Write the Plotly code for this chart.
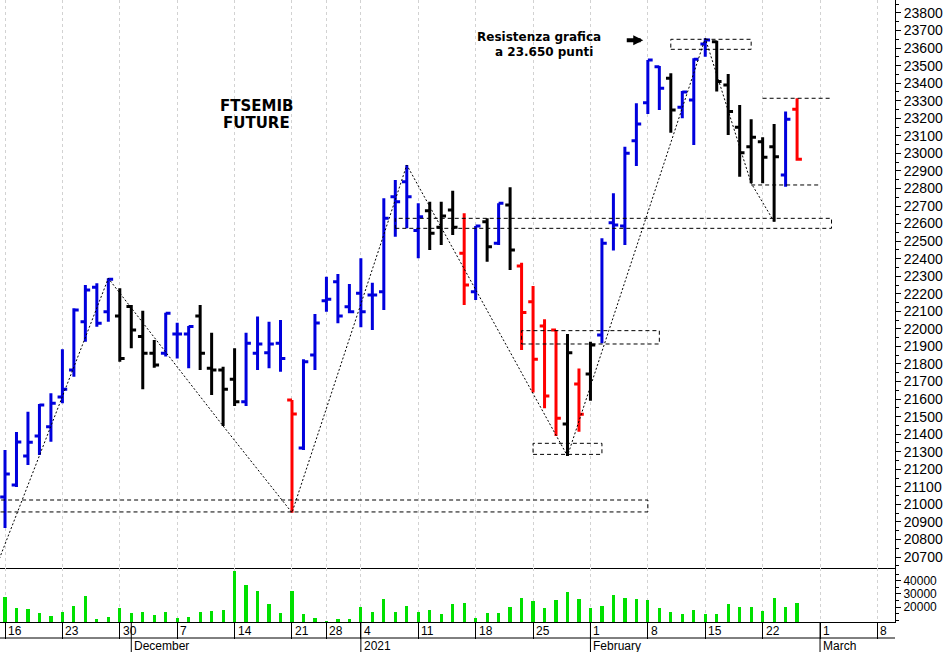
import pandas as pd
import plotly.graph_objects as go

# ---------------- data ----------------
holidays = ["2020-12-24", "2020-12-25", "2020-12-31", "2021-01-01"]
calendar = [d for d in pd.bdate_range("2020-11-16", "2021-03-08")
            if d.strftime("%Y-%m-%d") not in holidays]

opens = [21042, 21110, 21276, 21390, 21443, 21612, 21766, 22041, 22237, 22098,
         22074, 22127, 21956, 21861, 21861, 21971, 21971, 22074, 21776, 21766,
         21713, 21585, 21861, 21864, 21918, 21595, 21321, 21851, 22161, 22269,
         22126, 22203, 22193, 22212, 22753, 22839, 22560, 22673, 22579, 22677,
         22431, 22212, 22611, 22488, 22706, 22358, 22155, 22017, 21994, 21458,
         21686, 21743, 21965, 22605, 22586, 23072, 23289, 23494, 23428, 23263,
         23304, 23623, 23636, 23390, 23149, 23038, 23067, 23038, 22877, 23251]
highs = [21310, 21413, 21528, 21572, 21633, 21884, 22117, 22250, 22260, 22288,
         22231, 22136, 22104, 21937, 22092, 22035, 22017, 22136, 21978, 21785,
         21889, 21978, 22070, 22041, 22051, 21595, 21827, 22085, 22297, 22313,
         22256, 22402, 22263, 22744, 22848, 22934, 22716, 22725, 22725, 22787,
         22659, 22586, 22630, 22716, 22807, 22377, 22245, 22055, 21994, 21971,
         21775, 21927, 22516, 22773, 23038, 23285, 23532, 23498, 23456, 23355,
         23542, 23656, 23642, 23452, 23276, 23194, 23092, 23167, 23238, 23314]
lows = [20866, 21099, 21224, 21281, 21357, 21576, 21728, 21927, 22012, 22041,
        21813, 21890, 21656, 21779, 21842, 21832, 21776, 21766, 21623, 21447,
        21561, 21561, 21766, 21776, 21756, 20953, 21310, 21766, 22098, 22032,
        22089, 22009, 21994, 22108, 22525, 22573, 22402, 22450, 22478, 22535,
        22136, 22165, 22383, 22478, 22336, 21880, 21637, 21548, 21390, 21276,
        21414, 21591, 21918, 22446, 22478, 22928, 23224, 23247, 23118, 23200,
        23048, 23551, 23352, 23105, 22867, 22830, 22830, 22611, 22810, 22958]
closes = [21173, 21356, 21354, 21566, 21576, 21656, 22108, 22222, 22032, 22283,
          21832, 21994, 21861, 21794, 22089, 21971, 22013, 21861, 21766, 21656,
          21585, 21918, 21914, 21914, 21832, 21515, 21813, 22034, 22169, 22073,
          22098, 22098, 22193, 22630, 22725, 22753, 22639, 22545, 22643, 22579,
          22250, 22586, 22468, 22716, 22450, 22094, 21827, 21618, 21491, 21864,
          21513, 21908, 22488, 22592, 23001, 23167, 23532, 23371, 23247, 23350,
          23536, 23646, 23409, 23238, 23004, 23092, 22978, 22981, 23194, 22966]
bar_colors = (["blue"] * 10 + ["black"] * 4 + ["blue"] * 3 + ["black"] * 4 +
              ["blue"] * 4 + ["red"] + ["blue"] * 11 + ["black"] * 3 + ["red"] +
              ["blue"] + ["black"] + ["blue"] + ["black"] + ["red"] * 4 + ["black"] +
              ["red"] + ["black"] + ["blue"] * 6 + ["black"] + ["blue"] * 3 +
              ["black"] * 6 + ["blue"] + ["red"])
volumes = [27400, 19000, 18250, 15200, 13400, 16400, 20800, 28400, 10600, 12600,
           19000, 15200, 16000, 13700, 16400, 11900, 12600, 16000, 17200, 17500,
           47400, 36700, 32200, 22300, 15200, 32400, 14700, 11900, 9400, 10600,
           10900, 20000, 16400, 25800, 16400, 20500, 16000, 17500, 14500, 22300,
           23000, 11400, 15700, 15700, 19800, 26600, 24300, 19000, 25100, 31200,
           25800, 19000, 20800, 28900, 26600, 25800, 25100, 19000, 16400, 14500,
           17700, 14500, 14500, 22300, 19800, 19800, 17200, 26600, 19800, 22800]

# swing line (trading-day index, price)
zigzag_day = [-1, 9, 19, 25, 35, 49, 61, 65, 67]
zigzag_price = [20605, 22288, 21447, 20953, 22934, 21276, 23656, 22830, 22611]

# dashed boxes (from day, to day, low, high)
box_from = [-1, 45, 46, 34, 58]
box_to = [56, 57, 52, 72, 65]
box_low = [20957, 21914, 21285, 22573, 23593]
box_high = [21025, 21990, 21348, 22630, 23650]
# dashed single levels
level_from = [66, 65]
level_to = [72, 71]
level_price = [23314, 22820]

# ---------------- derived axis labels ----------------
n = len(opens)
xs = list(range(n))
week_pos = [i for i, d in enumerate(calendar) if d.weekday() == 0]
week_lbl = [str(calendar[i].day) for i in week_pos]
month_pos, month_lbl = [], []
for i in range(1, len(calendar)):
    if calendar[i].month != calendar[i - 1].month:
        month_pos.append(i)
        month_lbl.append(str(calendar[i].year) if calendar[i].month == 1
                         else calendar[i].strftime("%B"))

COLORS = {"blue": "#0000DD", "black": "#000000", "red": "#FF0000"}

fig = go.Figure()
for cname, col in COLORS.items():
    sel = [i for i in xs if bar_colors[i] == cname]
    fig.add_trace(go.Ohlc(
        x=[xs[i] for i in sel], open=[opens[i] for i in sel],
        high=[highs[i] for i in sel], low=[lows[i] for i in sel],
        close=[closes[i] for i in sel],
        increasing=dict(line=dict(color=col, width=3)),
        decreasing=dict(line=dict(color=col, width=3)),
        tickwidth=0.42, xaxis="x", yaxis="y", hoverinfo="skip", showlegend=False))

fig.add_trace(go.Scatter(x=zigzag_day, y=zigzag_price, mode="lines",
                         line=dict(color="black", width=1, dash="2px,2px"),
                         xaxis="x", yaxis="y", hoverinfo="skip", showlegend=False))

fig.add_trace(go.Bar(x=xs, y=volumes, width=0.28,
                     marker=dict(color="#00E000", line=dict(width=0)),
                     xaxis="x2", yaxis="y2", hoverinfo="skip", showlegend=False))

shapes = []
for a, b, lo, hi in zip(box_from, box_to, box_low, box_high):
    shapes.append(dict(type="rect", xref="x", yref="y", x0=a, x1=b, y0=lo, y1=hi,
                       line=dict(color="black", width=1, dash="4px,3px"),
                       fillcolor="rgba(0,0,0,0)", layer="above"))
for a, b, p in zip(level_from, level_to, level_price):
    shapes.append(dict(type="line", xref="x", yref="y", x0=a, x1=b, y0=p, y1=p,
                       line=dict(color="black", width=1, dash="4px,3px")))

H = 622.0  # plot height in px
def py(pix):
    return (H - pix) / H

shapes.append(dict(type="line", xref="paper", yref="paper", x0=0, x1=1,
                   y0=py(638), y1=py(638), line=dict(color="black", width=1)))
for p in month_pos:
    shapes.append(dict(type="line", xref="x2", yref="paper", x0=p, x1=p,
                       y0=py(622), y1=py(652), line=dict(color="black", width=1)))

LAB = dict(family="Liberation Sans, Arial", size=12, color="black")
annotations = []
for p, t in zip(week_pos, week_lbl):
    annotations.append(dict(x=p, y=py(631), xref="x2", yref="paper", text=t,
                            showarrow=False, xanchor="left", yanchor="middle",
                            xshift=1, font=LAB))
for p, t in zip(month_pos, month_lbl):
    annotations.append(dict(x=p, y=py(646), xref="x2", yref="paper", text=t,
                            showarrow=False, xanchor="left", yanchor="middle",
                            xshift=1, font=LAB))

BOLD = dict(family="DejaVu Sans", color="black")
annotations += [
    dict(x=21.9, y=23270, xref="x", yref="y", text="<b>FTSEMIB</b>", showarrow=False,
         font=dict(size=15, **BOLD)),
    dict(x=21.9, y=23173, xref="x", yref="y", text="<b>FUTURE</b>", showarrow=False,
         font=dict(size=15, **BOLD)),
    dict(x=46.5, y=23665, xref="x", yref="y", text="<b>Resistenza grafica</b>",
         showarrow=False, font=dict(size=12, **BOLD)),
    dict(x=46.95, y=23578, xref="x", yref="y", text="<b>a 23.650 punti</b>",
         showarrow=False, font=dict(size=12, **BOLD)),
    dict(x=55.6, y=23644, xref="x", yref="y", text="", showarrow=True,
         ax=-18, ay=0, arrowhead=2, arrowsize=0.5, arrowwidth=4,
         standoff=0, startstandoff=0, arrowcolor="black"),
]

xr = [-0.436, 77.53]
common_x = dict(range=xr, showgrid=True, gridcolor="#d2d2d2", griddash="3px,3px",
                gridwidth=1, tickmode="array", tickvals=week_pos, showticklabels=False,
                zeroline=False, showline=True, linecolor="black", linewidth=1,
                fixedrange=True)
TICKF = dict(family="Liberation Sans, Arial", size=14, color="black")

fig.update_layout(
    width=943, height=652, margin=dict(l=0, r=48, t=0, b=30),
    paper_bgcolor="white", plot_bgcolor="white", showlegend=False,
    bargap=0, shapes=shapes, annotations=annotations, hovermode=False,
    xaxis=dict(domain=[0, 1], anchor="y", ticks="", rangeslider=dict(visible=False),
               **common_x),
    xaxis2=dict(domain=[0, 1], anchor="y2", ticks="outside", ticklen=16,
                tickcolor="black", tickwidth=1, **common_x),
    yaxis=dict(domain=[54 / H, 1], anchor="x", side="right",
               range=[20637.6, 23874], tick0=20700, dtick=100, tickformat="d",
               ticks="outside", ticklen=5, tickcolor="black", showline=True,
               linecolor="black", showgrid=False, zeroline=False, tickfont=TICKF,
               fixedrange=True,
               minor=dict(tick0=20650, dtick=50, ticks="outside", ticklen=3,
                          tickcolor="black", showgrid=False)),
    yaxis2=dict(domain=[0, 54 / H], anchor="x2", side="right",
                range=[8593, 49658], tickmode="array", tickvals=[20000, 30000, 40000],
                tickformat="d", ticks="outside", ticklen=5, tickcolor="black",
                showline=True, linecolor="black", showgrid=False, zeroline=False,
                fixedrange=True,
                tickfont=dict(family="Liberation Sans, Arial", size=12, color="black"),
                minor=dict(dtick=5000, ticks="outside", ticklen=3, tickcolor="black",
                           showgrid=False)),
)

fig.write_html("out.html", config={"displayModeBar": False, "staticPlot": True},
               post_script="document.body.style.margin='0px';"
                           "document.body.style.overflow='hidden';")
